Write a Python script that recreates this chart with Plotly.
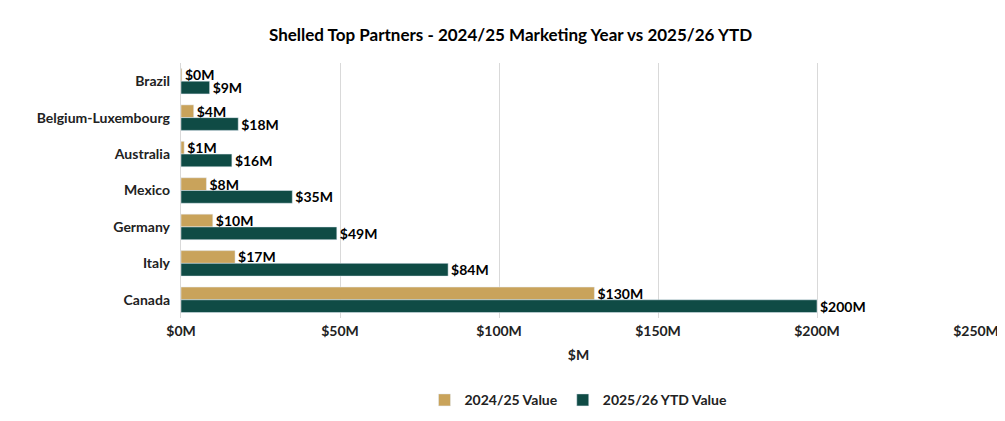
import plotly.graph_objects as go

countries = ["Brazil", "Belgium-Luxembourg", "Australia", "Mexico", "Germany", "Italy", "Canada"]
v2425 = [0.3, 4, 1, 8, 10, 17, 130]
v2526 = [9, 18, 16, 35, 49, 84, 200]
lab2425 = ["$0M", "$4M", "$1M", "$8M", "$10M", "$17M", "$130M"]
lab2526 = ["$9M", "$18M", "$16M", "$35M", "$49M", "$84M", "$200M"]
ticks = [0, 50, 100, 150, 200, 250]
tick_labels = ["<b>$0M</b>", "<b>$50M</b>", "<b>$100M</b>", "<b>$150M</b>", "<b>$200M</b>", "<b>$250M</b>"]

tf = dict(family="Lato", size=14, color="#222")
fig = go.Figure()
fig.add_trace(go.Bar(y=countries, x=v2425, orientation="h", name="<b>2024/25 Value</b>",
                     marker_color="#C9A35B", text=lab2425, texttemplate="<b>%{text}</b>",
                     textposition="outside", constraintext="none",
                     textfont=dict(family="Lato", size=14, color="black"), cliponaxis=False))
fig.add_trace(go.Bar(y=countries, x=v2526, orientation="h", name="<b>2025/26 YTD Value</b>",
                     marker_color="#0F4B45", text=lab2526, texttemplate="<b>%{text}</b>",
                     textposition="outside", constraintext="none",
                     textfont=dict(family="Lato", size=14, color="black"), cliponaxis=False))
fig.update_layout(
    width=1005, height=421, barmode="group", bargap=0.3, bargroupgap=0,
    paper_bgcolor="white", plot_bgcolor="white", font=tf,
    margin=dict(l=173, r=37, t=55, b=111),
    uniformtext=dict(minsize=14, mode="show"),
    title=dict(text="<b>Shelled Top Partners - 2024/25 Marketing Year vs 2025/26 YTD</b>",
               x=0.5, xanchor="center", y=0.95, font=dict(family="Lato", size=17, color="black")),
    xaxis=dict(range=[0, 250], tickvals=ticks, ticktext=tick_labels, showgrid=True,
               gridcolor="#D9D9D9", zeroline=False, automargin=False, ticklen=0, ticks="outside",
               tickcolor="white", title=dict(text="<b>$M</b>", standoff=12, font=tf),
               tickfont=tf),
    yaxis=dict(autorange="reversed", automargin=False, tickfont=tf,
               showline=True, linecolor="#D9D9D9"),
    legend=dict(orientation="h", x=0.5, xanchor="center", y=-0.26, yanchor="top", font=tf),
)
fig.update_yaxes(tickprefix="<b>", ticksuffix="</b>  ")
fig.write_html("out.html")
